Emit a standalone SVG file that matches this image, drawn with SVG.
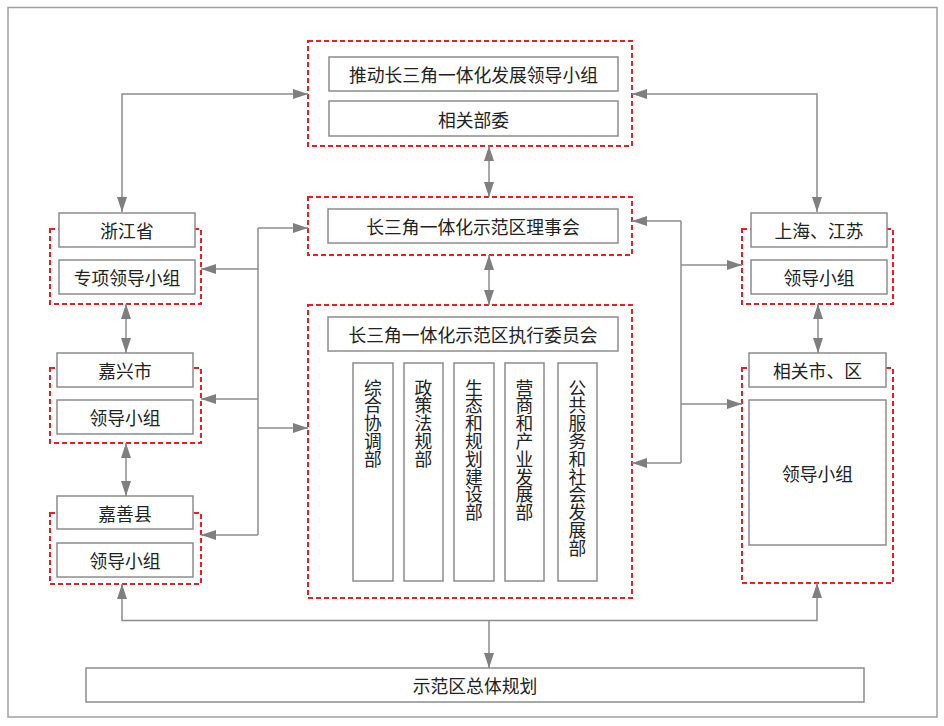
<svg xmlns="http://www.w3.org/2000/svg" width="944" height="726" viewBox="0 0 944 726">
<defs>
<style>
.frame{fill:#fff;stroke:#a0a0a0;stroke-width:1.5}
.grp{fill:none;stroke:#ee1c25;stroke-width:2;stroke-dasharray:5 3}
.box{fill:#fff;stroke:#8c8c8c;stroke-width:1.5}
.t{font-family:"Noto Sans CJK SC","Noto Sans",sans-serif;font-size:17.8px;fill:#222;text-anchor:middle;dominant-baseline:central}
.v{font-family:"Noto Sans CJK SC","Noto Sans",sans-serif;font-size:17.8px;fill:#222;writing-mode:vertical-rl;text-anchor:start;dominant-baseline:central}
.c{fill:none;stroke:#8c8c8c;stroke-width:1.5}
</style>
<marker id="ah" markerUnits="userSpaceOnUse" markerWidth="15" markerHeight="10" refX="15" refY="5" orient="auto-start-reverse" viewBox="0 0 15 10">
<path d="M0,0 L15,5 L0,10 z" fill="#7f7f7f"/>
</marker>
</defs>
<rect class="frame" x="8" y="7.5" width="929" height="709.5"/>

<g id="containers">
<rect class="grp" x="308" y="41" width="324" height="105"/>
<rect class="grp" x="308" y="197" width="324" height="58"/>
<rect class="grp" x="308" y="305" width="324" height="293"/>
<rect class="grp" x="50" y="229" width="151" height="75"/>
<rect class="grp" x="50" y="368" width="151" height="75"/>
<rect class="grp" x="50" y="513" width="151" height="71"/>
<rect class="grp" x="742" y="229" width="151" height="75"/>
<rect class="grp" x="742" y="368" width="151" height="215"/>
</g>

<g id="connectors">
<path class="c" d="M122,212 V94 H308" marker-start="url(#ah)" marker-end="url(#ah)"/>
<path class="c" d="M817,212 V94 H632" marker-start="url(#ah)" marker-end="url(#ah)"/>
<path class="c" d="M489,146 V197" marker-start="url(#ah)" marker-end="url(#ah)"/>
<path class="c" d="M489,255 V305" marker-start="url(#ah)" marker-end="url(#ah)"/>
<path class="c" d="M258,228 V535"/>
<path class="c" d="M258,228 H308" marker-end="url(#ah)"/>
<path class="c" d="M258,269 H201" marker-end="url(#ah)"/>
<path class="c" d="M258,399 H201" marker-end="url(#ah)"/>
<path class="c" d="M258,428 H308" marker-end="url(#ah)"/>
<path class="c" d="M258,535 H201" marker-end="url(#ah)"/>
<path class="c" d="M681,221 V463"/>
<path class="c" d="M681,221 H632" marker-end="url(#ah)"/>
<path class="c" d="M681,265 H742" marker-end="url(#ah)"/>
<path class="c" d="M681,404 H742" marker-end="url(#ah)"/>
<path class="c" d="M681,463 H632" marker-end="url(#ah)"/>
<path class="c" d="M126,304 V353" marker-start="url(#ah)" marker-end="url(#ah)"/>
<path class="c" d="M126,443 V496" marker-start="url(#ah)" marker-end="url(#ah)"/>
<path class="c" d="M818,304 V353" marker-start="url(#ah)" marker-end="url(#ah)"/>
<path class="c" d="M122,584 V620.5 H817 V583" marker-start="url(#ah)" marker-end="url(#ah)"/>
<path class="c" d="M489,620.5 V668" marker-end="url(#ah)"/>
</g>

<g id="n-lead"><rect class="box" x="329" y="57" width="289" height="34"/><text class="t" x="473.5" y="74">推动长三角一体化发展领导小组</text></g>
<g id="n-dept"><rect class="box" x="329" y="101" width="289" height="35"/><text class="t" x="473.5" y="118.5">相关部委</text></g>
<g id="n-council"><rect class="box" x="328" y="209" width="290" height="34"/><text class="t" x="473" y="226">长三角一体化示范区理事会</text></g>
<g id="n-exec"><rect class="box" x="328" y="317" width="290" height="34"/><text class="t" x="473" y="334">长三角一体化示范区执行委员会</text></g>

<g id="n-d1"><rect class="box" x="353" y="363" width="40" height="218"/><text class="v" x="373" y="379">综合协调部</text></g>
<g id="n-d2"><rect class="box" x="404" y="363" width="39" height="218"/><text class="v" x="423.5" y="379">政策法规部</text></g>
<g id="n-d3"><rect class="box" x="454" y="363" width="40" height="218"/><text class="v" x="474" y="379">生态和规划建设部</text></g>
<g id="n-d4"><rect class="box" x="505" y="363" width="39" height="218"/><text class="v" x="524.5" y="379">营商和产业发展部</text></g>
<g id="n-d5"><rect class="box" x="558" y="363" width="39" height="218"/><text class="v" x="577.5" y="379">公共服务和社会发展部</text></g>

<g id="n-zj"><rect class="box" x="59" y="213" width="136" height="34"/><text class="t" x="127" y="230">浙江省</text></g>
<g id="n-zj-g"><rect class="box" x="59" y="260" width="136" height="34"/><text class="t" x="127" y="277">专项领导小组</text></g>
<g id="n-jx"><rect class="box" x="57" y="353" width="136" height="34"/><text class="t" x="125" y="370">嘉兴市</text></g>
<g id="n-jx-g"><rect class="box" x="57" y="400" width="136" height="34"/><text class="t" x="125" y="417">领导小组</text></g>
<g id="n-js"><rect class="box" x="57" y="496" width="136" height="33"/><text class="t" x="125" y="512.5">嘉善县</text></g>
<g id="n-js-g"><rect class="box" x="57" y="543" width="136" height="34"/><text class="t" x="125" y="560">领导小组</text></g>

<g id="n-sh"><rect class="box" x="751" y="213" width="136" height="34"/><text class="t" x="819" y="230">上海、江苏</text></g>
<g id="n-sh-g"><rect class="box" x="751" y="260" width="136" height="34"/><text class="t" x="819" y="277">领导小组</text></g>
<g id="n-city"><rect class="box" x="749" y="353" width="137" height="34"/><text class="t" x="817.5" y="370">相关市、区</text></g>
<g id="n-city-g"><rect class="box" x="749" y="400" width="137" height="145"/><text class="t" x="817.5" y="473">领导小组</text></g>

<g id="n-plan"><rect class="box" x="86" y="668" width="778" height="34"/><text class="t" x="475" y="685">示范区总体规划</text></g>
</svg>
